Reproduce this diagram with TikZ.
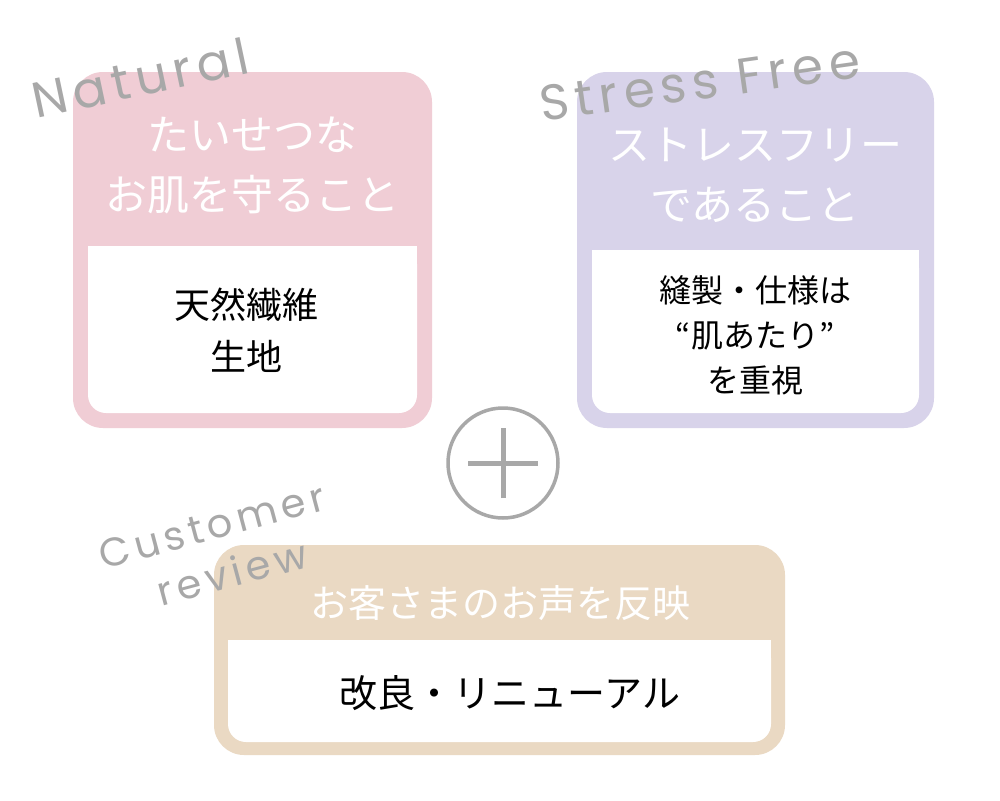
\documentclass[tikz,border=0pt]{standalone}
\usepackage{fontspec}
\setmainfont{Noto Sans CJK JP}
\newfontfamily\hand[LetterSpace=12]{Poppins}
\definecolor{pk}{HTML}{F0CDD5}
\definecolor{pu}{HTML}{D8D3EA}
\definecolor{be}{HTML}{EAD9C3}
\definecolor{gr}{HTML}{A8A8A8}
\begin{document}
\begin{tikzpicture}[x=1pt,y=-1pt,
  outer/.style={rounded corners=30pt},
  inner/.style={fill=white,rounded corners=18pt},
  head/.style={text=white,font=\fontsize{42}{60}\selectfont,align=center},
  body/.style={text=black,font=\fontsize{36}{52}\selectfont,align=center},
  script/.style={text=gr,font=\hand\fontsize{50}{50}\selectfont}]
\useasboundingbox (0,0) rectangle (1000,800);
\fill[white] (0,0) rectangle (1000,800);
% pink
\fill[pk,outer] (73,72) rectangle (432,428);
\fill[inner] (88,246) rectangle (417,413);
\fill[white] (88,246) rectangle (417,300);
\node[head] (h1) at (252,165) {たいせつな\\お肌を守ること};
\node[body] (b1) at (246,330) {天然繊維\\生地};
% purple
\fill[pu,outer] (577,72) rectangle (934,428);
\fill[inner] (592,250) rectangle (919,413);
\fill[white] (592,250) rectangle (919,300);
\node[head] (h2) at (755,175) {ストレスフリー\\であること};
\node[body,font=\fontsize{32}{45}\selectfont] (b2) at (755,335) {縫製・仕様は\\“肌あたり”\\を重視};
% plus
\node[draw=gr,line width=3.5pt,circle,minimum size=110pt] (pl) at (503,463) {};
\draw[gr,line width=5pt] ([xshift=-35pt]pl.center) -- ([xshift=35pt]pl.center);
\draw[gr,line width=5pt] ([yshift=-35pt]pl.center) -- ([yshift=35pt]pl.center);
% beige
\fill[be,outer] (214,545) rectangle (785,755);
\fill[inner] (228,640) rectangle (771,742);
\fill[white] (228,640) rectangle (771,690);
\node[head,font=\fontsize{38}{50}\selectfont] (h3) at (500,603) {お客さまのお声を反映};
\node[body,font=\fontsize{38}{50}\selectfont] (b3) at (510,693) {改良・リニューアル};
% script labels
\node[script,rotate=12] (s1) at (140,78) {Natural};
\node[script,rotate=8] (s2) at (700,82) {Stress Free};
\node[script,rotate=15,font=\hand\fontsize{40}{40}\selectfont] (s3) at (212,526) {Customer};
\node[script,rotate=15,font=\hand\fontsize{40}{40}\selectfont] (s4) at (232,572) {review};
\end{tikzpicture}
\end{document}
